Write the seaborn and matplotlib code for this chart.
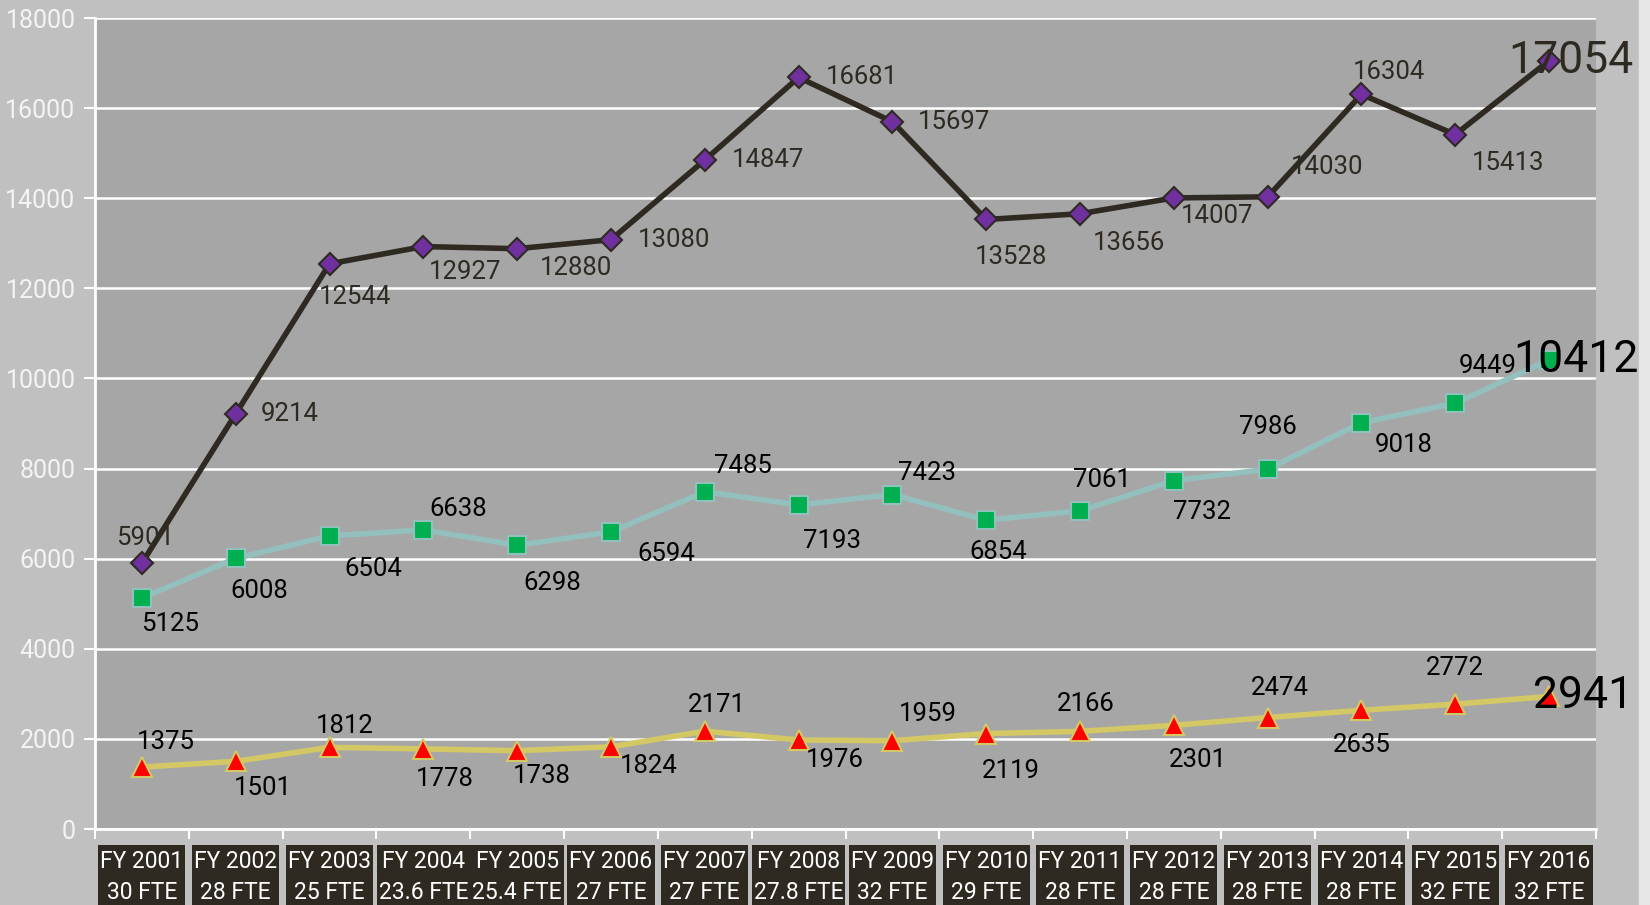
import matplotlib
matplotlib.use("Agg")
import matplotlib.pyplot as plt
from matplotlib import font_manager
from matplotlib.patches import Rectangle
import matplotlib.transforms as mtransforms
import seaborn as sns
import pandas as pd
import numpy as np

years = ["FY 2001", "FY 2002", "FY 2003", "FY 2004", "FY 2005", "FY 2006", "FY 2007", "FY 2008",
         "FY 2009", "FY 2010", "FY 2011", "FY 2012", "FY 2013", "FY 2014", "FY 2015", "FY 2016"]
fte = ["30 FTE", "28 FTE", "25 FTE", "23.6 FTE", "25.4 FTE", "27 FTE", "27 FTE", "27.8 FTE",
       "32 FTE", "29 FTE", "28 FTE", "28 FTE", "28 FTE", "28 FTE", "32 FTE", "32 FTE"]
series_top = [5901, 9214, 12544, 12927, 12880, 13080, 14847, 16681, 15697, 13528, 13656, 14007,
              14030, 16304, 15413, 17054]
series_mid = [5125, 6008, 6504, 6638, 6298, 6594, 7485, 7193, 7423, 6854, 7061, 7732, 7986,
              9018, 9449, 10412]
series_low = [1375, 1501, 1812, 1778, 1738, 1824, 2171, 1976, 1959, 2119, 2166, 2301, 2474,
              2635, 2772, 2941]

# label placement (pixel offsets from the point; positive dy = downwards)
off_top = [(3, -25), (54, 0), (26, 33), (42, 25), (59, 19), (63, 0), (63, 0), (63, 0), (62, 0),
           (25, 38), (49, 29), (43, 18), (59, -30), (28, -22), (53, 28), (22, 0)]
off_mid = [(28, 26), (24, 33), (44, 33), (35, -21), (35, 38), (55, 22), (38, -26), (33, 36),
           (35, -22), (12, 32), (22, -31), (28, 31), (0, -42), (42, 22), (32, -37), (27, 0)]
off_low = [(24, -25), (27, 27), (15, -21), (21, 30), (25, 25), (38, 19), (12, -26), (36, 20),
           (35, -27), (25, 37), (6, -27), (24, 35), (12, -30), (0, 35), (0, -36), (34, 0)]

sns.set_theme(style="white")
avail = {f.name for f in font_manager.fontManager.ttflist}
fam = "Liberation Sans Narrow" if "Liberation Sans Narrow" in avail else "Roboto"
plt.rcParams["font.family"] = [fam, "DejaVu Sans"]

W, H = 1650, 905
fig = plt.figure(figsize=(W / 100, H / 100), dpi=100)
fig.patch.set_facecolor("#c0c0c0")
fig.patches.append(plt.Rectangle((1639 / W, 0), 1, 1, transform=fig.transFigure,
                                 color="#e6e6e6", zorder=0))
ax_bottom_px, ax_top_px = 829, 18
ax = fig.add_axes([95 / W, 1 - ax_bottom_px / H, 1501 / W, (ax_bottom_px - ax_top_px) / H])
ax.set_facecolor("#a6a6a6")

x = np.arange(len(years))
df = pd.DataFrame({"x": np.tile(x, 3),
                   "v": series_top + series_mid + series_low,
                   "s": ["top"] * 16 + ["mid"] * 16 + ["low"] * 16})

styles = {
    "top": dict(color="#2e2a22", marker="D", mfc="#7030a0", mec="#2e2a22", ms=11, mew=1.5),
    "mid": dict(color="#93c0bd", marker="s", mfc="#00b050", mec="#93c0bd", ms=13, mew=1.5),
    "low": dict(color="#d4c864", marker="^", mfc="#ff0000", mec="#d4c864", ms=14, mew=1.5),
}
for key in ["low", "mid", "top"]:
    st = styles[key]
    sns.lineplot(data=df[df.s == key], x="x", y="v", ax=ax, color=st["color"], lw=4,
                 marker=st["marker"], markerfacecolor=st["mfc"], markeredgecolor=st["mec"],
                 markersize=st["ms"], markeredgewidth=st["mew"], zorder=3, legend=False)

label_specs = [(series_top, off_top, "#2e2a22"), (series_mid, off_mid, "#000000"),
               (series_low, off_low, "#000000")]
for vals, offs, col in label_specs:
    for i, (v, o) in enumerate(zip(vals, offs)):
        last = i == len(vals) - 1
        ax.annotate(str(v), (x[i], v), xytext=(o[0], -o[1]), textcoords="offset pixels",
                    ha="center", va="center", color=col,
                    fontsize=32 if last else 18.5, zorder=5, annotation_clip=False)

ax.set_xlim(-0.5, 15.5)
ax.set_ylim(0, 18000)
ax.set_yticks(range(0, 18001, 2000))
ax.yaxis.grid(True, color="white", lw=1.8)
ax.set_axisbelow(True)
ax.set_xlabel("")
ax.set_ylabel("")
for s in ["top", "right"]:
    ax.spines[s].set_visible(False)
for s in ["left", "bottom"]:
    ax.spines[s].set_color("white")
    ax.spines[s].set_linewidth(2)

ax.tick_params(axis="y", colors="white", labelsize=18, length=8, width=1.5, direction="out",
               left=True, pad=6)
for t in ax.get_yticklabels():
    t.set_color("#f4f4f4")

ax.set_xticks(np.arange(-0.5, 16, 1), minor=False)
ax.set_xticklabels([])
ax.tick_params(axis="x", colors="white", length=7, width=1.5, direction="out", bottom=True)

# category label boxes below the axis
ax_h = ax_bottom_px - ax_top_px
box_top = -(845 - ax_bottom_px) / ax_h
box_bot = -(H + 5 - ax_bottom_px) / ax_h
txt_y = -(877 - ax_bottom_px) / ax_h
trans = mtransforms.blended_transform_factory(ax.transData, ax.transAxes)
texts = []
for i, (yr, f) in enumerate(zip(years, fte)):
    t = ax.text(x[i], txt_y, f"{yr}\n{f}", transform=trans, ha="center", va="center",
                multialignment="center", color="white", fontsize=16.5, linespacing=1.45,
                clip_on=False, zorder=6)
    texts.append(t)
fig.canvas.draw()
renderer = fig.canvas.get_renderer()
unit_px = ax.transData.transform((1, 0))[0] - ax.transData.transform((0, 0))[0]
for i, t in enumerate(texts):
    wpx = t.get_window_extent(renderer).width
    half = max(0.437, (wpx + 4) / unit_px / 2)
    ax.add_patch(Rectangle((x[i] - half, box_bot), 2 * half, box_top - box_bot, transform=trans,
                           fc="#2e2a22", ec="none", clip_on=False, zorder=5))

fig.savefig("out.png", dpi=100, facecolor=fig.get_facecolor())
